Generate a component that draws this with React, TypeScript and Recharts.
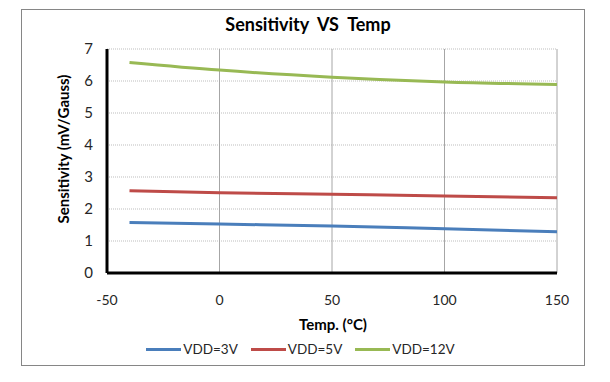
import { LineChart, Line, XAxis, YAxis, CartesianGrid } from 'recharts';

// temperature points (°C) and sensitivity readings (mV/Gauss)
const temps = [-40, 0, 50, 100, 150];
const vdd3 = [1.58, 1.53, 1.47, 1.38, 1.29];
const vdd5 = [2.57, 2.51, 2.46, 2.41, 2.35];
const vdd12 = [6.58, 6.34, 6.12, 5.97, 5.89];

const xTicks = [-50, 0, 50, 100, 150];
const yTicks = [0, 1, 2, 3, 4, 5, 6, 7];

const series = [
    { key: 'vdd3', name: 'VDD=3V', color: '#4a7ebb' },
    { key: 'vdd5', name: 'VDD=5V', color: '#be4b48' },
    { key: 'vdd12', name: 'VDD=12V', color: '#98b954' }
];

const data = temps.map((t, i) => ({
    temp: t,
    vdd3: vdd3[i],
    vdd5: vdd5[i],
    vdd12: vdd12[i]
}));

const font = 'Lato, "Liberation Sans", sans-serif';

export default function App() {
    return (
        <div style={{ position: 'absolute', left: 0, top: 0, width: 610, height: 382, background: '#fff', fontFamily: font }}>
            <div style={{ position: 'absolute', left: 21, top: 9, width: 562, height: 355, border: '1px solid #868686' }} />
            <div style={{ position: 'absolute', left: 0, top: 13, width: 616, textAlign: 'center', fontSize: 18, fontWeight: 700, whiteSpace: 'pre', color: '#000' }}>
                {'Sensitivity  VS  Temp'}
            </div>

            <LineChart
                width={610}
                height={382}
                data={data}
                margin={{ top: 49, right: 53, left: 47, bottom: 79 }}
                style={{ position: 'absolute', left: 0, top: 0 }}
            >
                <CartesianGrid horizontal={true} vertical={false} stroke="#bdbdbd" strokeDasharray="1 1" />
                <CartesianGrid horizontal={false} vertical={true} stroke="#a6a6a6" />
                <XAxis
                    dataKey="temp"
                    type="number"
                    domain={[-50, 150]}
                    ticks={xTicks}
                    height={30}
                    axisLine={{ stroke: '#000', strokeWidth: 3 }}
                    tickLine={false}
                    tickSize={0}
                    tickMargin={22}
                    tick={{ fill: '#262626', fontSize: 14, fontFamily: font }}
                />
                <YAxis
                    type="number"
                    domain={[0, 7]}
                    ticks={yTicks}
                    width={60}
                    axisLine={{ stroke: '#000', strokeWidth: 3 }}
                    tickLine={false}
                    tickSize={0}
                    tickMargin={14}
                    tick={{ fill: '#262626', fontSize: 15, fontFamily: font }}
                />
                {series.map((s) => (
                    <Line
                        key={s.key}
                        type="monotone"
                        dataKey={s.key}
                        name={s.name}
                        stroke={s.color}
                        strokeWidth={3}
                        dot={false}
                        isAnimationActive={false}
                    />
                ))}
            </LineChart>

            <div style={{ position: 'absolute', left: 13, top: 140, width: 100, height: 18, lineHeight: '18px', transform: 'rotate(-90deg)', fontSize: 15, fontWeight: 700, whiteSpace: 'nowrap', display: 'flex', justifyContent: 'center' }}>
                <span>Sensitivity (mV/Gauss)</span>
            </div>
            <div style={{ position: 'absolute', left: 233, top: 315, width: 200, textAlign: 'center', fontSize: 15, fontWeight: 700 }}>
                Temp. (°C)
            </div>

            <div style={{ position: 'absolute', left: 0, top: 341, width: 614, display: 'flex', justifyContent: 'center', fontSize: 13.5, color: '#262626' }}>
                {series.map((s) => (
                    <div key={s.key} style={{ display: 'flex', alignItems: 'center', marginRight: 13 }}>
                        <div style={{ width: 35, height: 3, background: s.color, marginRight: 2 }} />
                        <span>{s.name}</span>
                    </div>
                ))}
            </div>
        </div>
    );
}
